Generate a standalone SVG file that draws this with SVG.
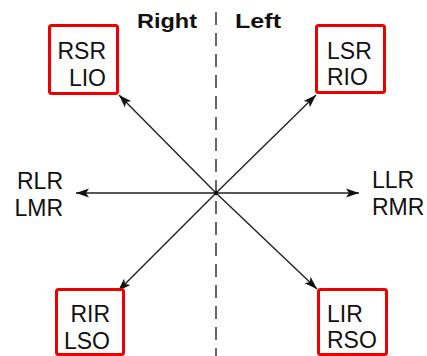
<svg xmlns="http://www.w3.org/2000/svg" width="427" height="356" viewBox="0 0 427 356">
<style>
.lbl{font-family:"Liberation Sans",Arial,sans-serif;font-size:23px;fill:#111}
.hdr{font-family:"Liberation Sans",Arial,sans-serif;font-size:21px;font-weight:bold;fill:#111}
.box{fill:none;stroke:#ee0000;stroke-width:3}
.arr{stroke:#222;stroke-width:1.4;fill:none;marker-end:url(#ah)}
</style>
<defs>
<marker id="ah" markerUnits="userSpaceOnUse" markerWidth="14" markerHeight="10" viewBox="0 0 14 10" refX="13" refY="5" orient="auto">
<path d="M0,0.5 L13,5 L0,9.5 L3,5 z" fill="#111"/>
</marker>
</defs>
<rect width="427" height="356" fill="#ffffff"/>
<g id="divider">
<line x1="216" y1="12" x2="216" y2="356" stroke="#333" stroke-width="1.5" stroke-dasharray="13 8"/>
<text class="hdr" x="137" y="27.5" textLength="60" lengthAdjust="spacingAndGlyphs">Right</text>
<text class="hdr" x="235" y="27.5" textLength="46" lengthAdjust="spacingAndGlyphs">Left</text>
</g>
<g id="connectors">
<line class="arr" x1="216" y1="193" x2="119" y2="95"/>
<line class="arr" x1="216" y1="193" x2="316" y2="95"/>
<line class="arr" x1="216" y1="193" x2="76" y2="193"/>
<line class="arr" x1="216" y1="193" x2="359" y2="193"/>
<line class="arr" x1="216" y1="193" x2="118" y2="291"/>
<line class="arr" x1="216" y1="193" x2="317" y2="289"/>
<circle cx="216" cy="193" r="2.2" fill="#111"/>
</g>
<g id="node-rsr">
<rect class="box" x="49.5" y="25.5" width="68" height="68" rx="2"/>
<text class="lbl" x="106" y="59" text-anchor="end">RSR</text>
<text class="lbl" x="106" y="86" text-anchor="end">LIO</text>
</g>
<g id="node-lsr">
<rect class="box" x="316.5" y="25.5" width="68" height="67" rx="2"/>
<text class="lbl" x="327" y="59">LSR</text>
<text class="lbl" x="327" y="85">RIO</text>
</g>
<g id="node-rlr">
<text class="lbl" x="63" y="189" text-anchor="end">RLR</text>
<text class="lbl" x="63" y="216" text-anchor="end">LMR</text>
</g>
<g id="node-llr">
<text class="lbl" x="372" y="188">LLR</text>
<text class="lbl" x="372" y="215">RMR</text>
</g>
<g id="node-rir">
<rect class="box" x="56.5" y="289.5" width="67" height="65" rx="2"/>
<text class="lbl" x="110" y="322" text-anchor="end">RIR</text>
<text class="lbl" x="110" y="349" text-anchor="end">LSO</text>
</g>
<g id="node-lir">
<rect class="box" x="318.5" y="289.5" width="68" height="65" rx="2"/>
<text class="lbl" x="327" y="322">LIR</text>
<text class="lbl" x="327" y="348">RSO</text>
</g>
</svg>
